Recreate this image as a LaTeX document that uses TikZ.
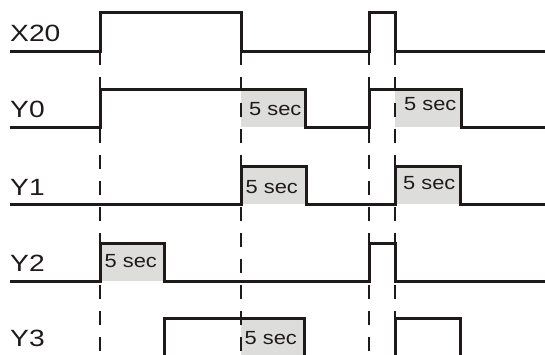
\documentclass[tikz,border=0pt]{standalone}
\usepackage{fontspec}
\setmainfont{Liberation Sans}
\newfontfamily\sigfont[FakeStretch=1.2]{Liberation Sans}
\newfontfamily\secfont[FakeStretch=1.15]{Liberation Sans}
\definecolor{boxgray}{RGB}{221,221,219}
\definecolor{ink}{RGB}{30,26,25}

\begin{document}
\begin{tikzpicture}[x=1pt,y=-1pt,
    sig/.style={ink,line width=3pt},
    guide/.style={ink,line width=2.9pt,dash pattern=on 14pt off 12pt},
    signame/.style={font=\sigfont\fontsize{23.5}{28}\selectfont,text=ink,anchor=base west,inner sep=0pt},
    sec/.style={font=\secfont\fontsize{19}{23}\selectfont,text=ink,anchor=base west,inner sep=0pt},
    hold/.style={fill=boxgray}
]
\useasboundingbox (0,0) rectangle (545,354);
\clip (0,0) rectangle (545,354);

% hold times
\fill[hold] (241,89) rectangle (305,127);
\fill[hold] (395,89) rectangle (461,127);
\fill[hold] (241,166) rectangle (306,204);
\fill[hold] (395,166) rectangle (460,204);
\fill[hold] (100,243) rectangle (164,281);
\fill[hold] (241,318) rectangle (304,360);

\node[sec] (s0a) at (249,115.5) {5 sec};
\node[sec] (s0b) at (404,110.5) {5 sec};
\node[sec] (s1a) at (245.5,193.5) {5 sec};
\node[sec] (s1b) at (403,189.5) {5 sec};
\node[sec] (s2) at (104.5,267.5) {5 sec};
\node[sec] (s3) at (244.5,344) {5 sec};

% signal names
\node[signame] (x20) at (10,41) {X20};
\node[signame] (y0) at (10,117.5) {Y0};
\node[signame] (y1) at (10,195) {Y1};
\node[signame] (y2) at (10,271) {Y2};
\node[signame] (y3) at (10,346.5) {Y3};

% waveforms
\draw[sig] (10,51) -- (100,51) -- (100,12.5) -- (241,12.5) -- (241,51) -- (369,51)
    -- (369,12.5) -- (395,12.5) -- (395,51) -- (545,51);
\draw[sig] (10,127) -- (100,127) -- (100,89) -- (305,89) -- (305,127) -- (369,127)
    -- (369,89) -- (461,89) -- (461,127) -- (545,127);
\draw[sig] (10,204) -- (241,204) -- (241,166) -- (306,166) -- (306,204) -- (395,204)
    -- (395,166) -- (460,166) -- (460,204) -- (545,204);
\draw[sig] (10,281) -- (100,281) -- (100,243) -- (164,243) -- (164,281) -- (369,281)
    -- (369,243) -- (395,243) -- (395,281) -- (545,281);
\draw[sig] (164,360) -- (164,318) -- (304,318) -- (304,360);
\draw[sig] (395,360) -- (395,318) -- (460,318) -- (460,360);

% edges of X20
\foreach \x in {100,241,369,395}
    \draw[guide] (\x,51) -- (\x,360);
\end{tikzpicture}
\end{document}
